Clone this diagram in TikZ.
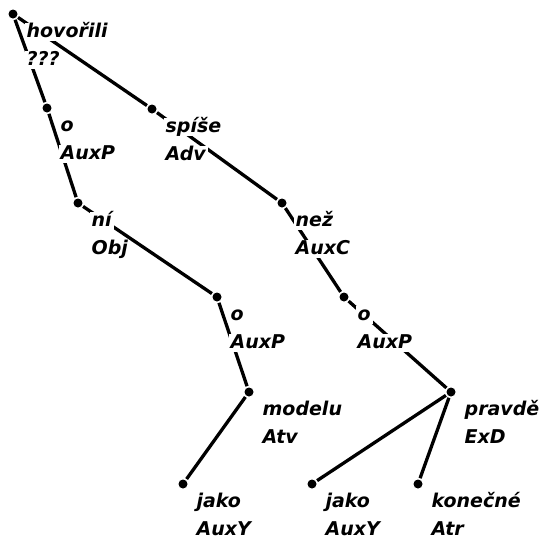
\documentclass[tikz,border=0pt]{standalone}
\usepackage{fontspec}
\newfontfamily\treefont{DejaVu Sans}
\usetikzlibrary{positioning}

\begin{document}
\begin{tikzpicture}[
    x=1pt, y=-1pt,
    line width=3.3pt,
    dot/.style={circle, fill, inner sep=0pt, minimum size=9pt},
    lbl/.style={inner xsep=2pt, inner ysep=1pt, fill=white,
        text height=14pt, text depth=2pt,
        font=\treefont\bfseries\itshape\fontsize{19}{27}\selectfont}
]
\useasboundingbox (0,0) rectangle (540,541);

\node[dot] (hov) at (13,14) {};
    \node[dot] (oA) at (47,108) {};
    \node[dot] (spise) at (152,109) {};
    \node[dot] (ni) at (78,203) {};
    \node[dot] (nez) at (282,203) {};
    \node[dot] (oB) at (217,297) {};
    \node[dot] (oC) at (344,297) {};
    \node[dot] (modelu) at (249,392) {};
    \node[dot] (pravde) at (451,392) {};
    \node[dot] (jakoA) at (183,484) {};
    \node[dot] (jakoB) at (312,484) {};
    \node[dot] (konecne) at (418,484) {};

\draw (hov) -- (oA);
    \draw (hov) -- (spise);
    \draw (oA) -- (ni);
    \draw (ni) -- (oB);
    \draw (spise) -- (nez);
    \draw (nez) -- (oC);
    \draw (oB) -- (modelu);
    \draw (oC) -- (pravde);
    \draw (modelu) -- (jakoA);
    \draw (pravde) -- (jakoB);
    \draw (pravde) -- (konecne);

% word forms
\node[lbl, below right=7pt and 10pt of hov.center] (whov) {hovořili};
    \node[lbl, below right=7pt and 10pt of oA.center] (woA) {o};
    \node[lbl, below right=7pt and 10pt of spise.center] (wspise) {spíše};
    \node[lbl, below right=7pt and 10pt of ni.center] (wni) {ní};
    \node[lbl, below right=7pt and 10pt of nez.center] (wnez) {než};
    \node[lbl, below right=7pt and 10pt of oB.center] (woB) {o};
    \node[lbl, below right=7pt and 10pt of oC.center] (woC) {o};
    \node[lbl, below right=7pt and 10pt of modelu.center] (wmodelu) {modelu};
    \node[lbl, below right=7pt and 10pt of pravde.center] (wpravde) {pravdě};
    \node[lbl, below right=7pt and 10pt of jakoA.center] (wjakoA) {jako};
    \node[lbl, below right=7pt and 10pt of jakoB.center] (wjakoB) {jako};
    \node[lbl, below right=7pt and 10pt of konecne.center] (wkonecne) {konečné};

% functions
\node[lbl, below right=7pt and 0pt of whov.south west] (fhov) {???};
    \node[lbl, below right=7pt and 0pt of woA.south west] (foA) {AuxP};
    \node[lbl, below right=7pt and 0pt of wspise.south west] (fspise) {Adv};
    \node[lbl, below right=7pt and 0pt of wni.south west] (fni) {Obj};
    \node[lbl, below right=7pt and 0pt of wnez.south west] (fnez) {AuxC};
    \node[lbl, below right=7pt and 0pt of woB.south west] (foB) {AuxP};
    \node[lbl, below right=7pt and 0pt of woC.south west] (foC) {AuxP};
    \node[lbl, below right=7pt and 0pt of wmodelu.south west] (fmodelu) {Atv};
    \node[lbl, below right=7pt and 0pt of wpravde.south west] (fpravde) {ExD};
    \node[lbl, below right=7pt and 0pt of wjakoA.south west] (fjakoA) {AuxY};
    \node[lbl, below right=7pt and 0pt of wjakoB.south west] (fjakoB) {AuxY};
    \node[lbl, below right=7pt and 0pt of wkonecne.south west] (fkonecne) {Atr};

\end{tikzpicture}
\end{document}
